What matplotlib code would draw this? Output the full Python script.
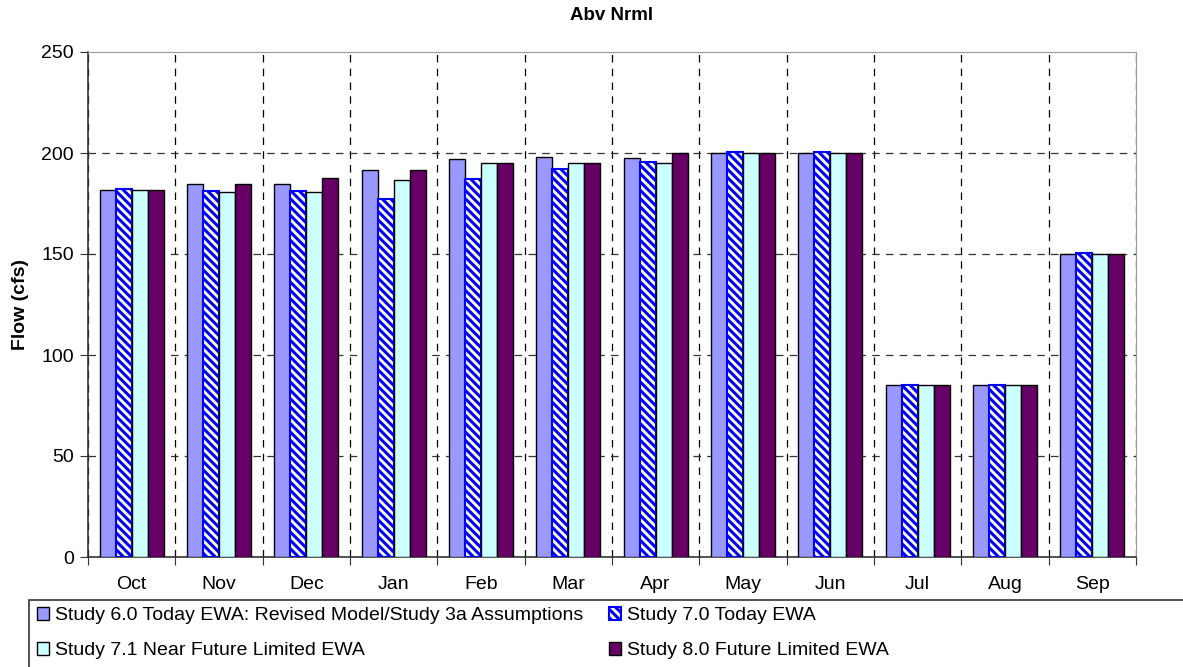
import numpy as np
import matplotlib
matplotlib.use("Agg")
import matplotlib.pyplot as plt
from matplotlib.patches import Rectangle

plt.rcParams["font.family"] = ["Liberation Sans", "DejaVu Sans"]
plt.rcParams["hatch.linewidth"] = 2.2

months = ["Oct", "Nov", "Dec", "Jan", "Feb", "Mar", "Apr", "May", "Jun", "Jul", "Aug", "Sep"]
study_60 = [181.5, 184.6, 184.6, 191.4, 196.8, 198.2, 197.6, 200, 200, 85, 85, 150]
study_70 = [182.0, 181.0, 181.0, 177.2, 187.3, 192.0, 195.5, 200.3, 200.3, 85.3, 85.3, 150.3]
study_71 = [181.5, 180.7, 180.7, 186.8, 195.2, 195.2, 195.2, 200, 200, 85, 85, 150]
study_80 = [181.5, 184.6, 187.6, 191.4, 195.2, 195.2, 200, 200, 200, 85, 85, 150]
labels = ["Study 6.0 Today EWA: Revised Model/Study 3a Assumptions",
          "Study 7.0 Today EWA",
          "Study 7.1 Near Future Limited EWA",
          "Study 8.0 Future Limited EWA"]

fig = plt.figure(figsize=(11.83, 6.67), dpi=100)
ax = fig.add_axes([88 / 1183, 1 - 557 / 667, (1136 - 88) / 1183, (557 - 52) / 667])

x = np.arange(len(months)) + 0.5
w = 0.183
b1 = ax.bar(x - 1.5 * w, study_60, w, color="#9999FF", edgecolor="black", linewidth=1, zorder=3)
b2 = ax.bar(x - 0.5 * w, study_70, w, color="#FFFFCC", edgecolor="#0000FF", hatch="\\\\\\\\",
            linewidth=1.5, zorder=3)
b3 = ax.bar(x + 0.5 * w, study_71, w, color="#CCFFFF", edgecolor="black", linewidth=1, zorder=3)
b4 = ax.bar(x + 1.5 * w, study_80, w, color="#660066", edgecolor="black", linewidth=1, zorder=3)

ax.set_xlim(0, 12)
ax.set_ylim(0, 250)
ax.set_yticks([0, 50, 100, 150, 200, 250])
ax.set_xticks(np.arange(13))
ax.set_xticklabels([])
ax.set_xticks(x, minor=True)
ax.set_xticklabels(months, minor=True)
ax.tick_params(axis="x", which="minor", length=0, pad=14, labelsize=14)
ax.tick_params(axis="x", which="major", length=6, direction="out", color="#333333")
ax.tick_params(axis="y", length=6, direction="out", labelsize=14, color="#333333", pad=4)

ax.grid(True, axis="x", which="major", color="black", linestyle=(0, (6, 5)), linewidth=0.9, zorder=1)
ax.set_axisbelow(True)
for yv in [50, 100, 150, 200]:
    ax.axhline(yv, color="#333333", linestyle=(0, (6, 5)), linewidth=0.9, zorder=1)

ax.spines["left"].set_color("#333333")
ax.spines["bottom"].set_color("#333333")
ax.spines["top"].set_color("#999999")
ax.spines["right"].set_color("#999999")
ax.spines["left"].set_linewidth(1.2)
ax.spines["bottom"].set_linewidth(1.2)

ax.set_ylabel("Flow (cfs)", fontsize=14, fontweight="bold", labelpad=9)
ax.set_title("Abv Nrml", fontsize=13.5, fontweight="bold", pad=23)

# legend frame extends past the right edge like the original
fig.patches.append(Rectangle((29 / 1183, -0.05), 1.1, 1 - 600 / 667 + 0.05,
                             transform=fig.transFigure, fill=False,
                             edgecolor="#333333", linewidth=1.2))
leg = fig.legend([b1, b3, b2, b4], [labels[0], labels[2], labels[1], labels[3]],
                 ncol=2, loc="upper left", bbox_to_anchor=(31 / 1183, 1 - 601 / 667),
                 frameon=False, fontsize=14, handlelength=0.65, handleheight=0.65,
                 handletextpad=0.3, columnspacing=1.3, labelspacing=0.9,
                 borderaxespad=0, borderpad=0.3)

fig.savefig("out.png", dpi=100)
